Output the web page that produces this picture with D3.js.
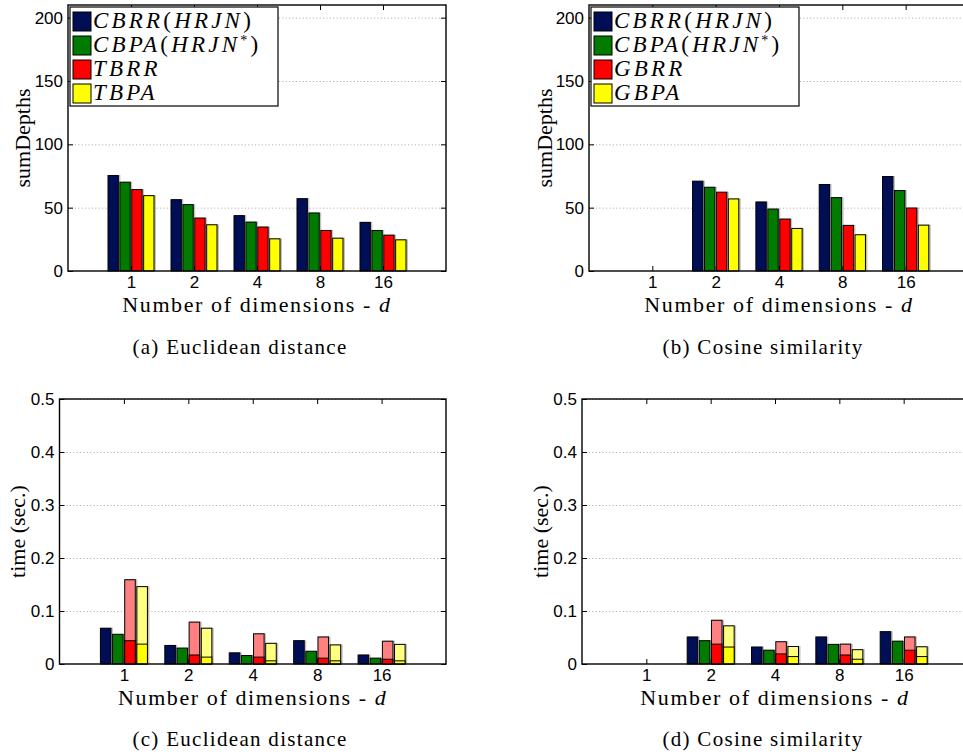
<!DOCTYPE html>
<html>
<head>
<meta charset="utf-8">
<script src="https://d3js.org/d3.v7.min.js"></script>
<style>
  body { margin: 0; background: #fff; }
  .tick text { font-family: "Liberation Sans", Arial, sans-serif; font-size: 17px; fill: #000; }
  .frame path.domain { stroke: none; }
  .grid line { stroke: #b4b4b4; stroke-dasharray: 1.2, 2.2; }
  .grid path { stroke: none; }
  .lbl { font-family: "Liberation Serif", "Times New Roman", serif; fill: #000; }
</style>
</head>
<body>
<script>
// categories
const dims = ["1", "2", "4", "8", "16"];
const seriesEuc = ["CBRR", "CBPA", "TBRR", "TBPA"];
const seriesCos = ["CBRR", "CBPA", "GBRR", "GBPA"];
const colors = ["#000f55", "#007b00", "#ff0000", "#ffff00"];
const lightColors = ["#000f55", "#007b00", "#ff8080", "#ffff80"];

// (a) sumDepths, Euclidean
const depthEucCBRR = [75.4, 56.3, 43.7, 57.1, 38.4];
const depthEucCBPA = [70.1, 52.4, 38.6, 45.8, 32.0];
const depthEucTBRR = [64.3, 41.8, 34.7, 32.0, 28.3];
const depthEucTBPA = [59.5, 36.5, 25.4, 25.9, 24.6];

// (b) sumDepths, cosine
const depthCosCBRR = [null, 70.9, 54.5, 68.3, 74.6];
const depthCosCBPA = [null, 66.1, 48.9, 57.9, 63.5];
const depthCosGBRR = [null, 62.2, 41.0, 36.0, 49.7];
const depthCosGBPA = [null, 56.9, 33.6, 28.6, 36.2];

// (c) time, Euclidean (total / lower part for the stacked ones)
const timeEucCBRR = [0.0675, 0.035, 0.021, 0.044, 0.017];
const timeEucCBPA = [0.056, 0.030, 0.016, 0.024, 0.011];
const timeEucTBRR = [0.159, 0.079, 0.057, 0.051, 0.043];
const timeEucTBRRpart = [0.044, 0.017, 0.013, 0.011, 0.009];
const timeEucTBPA = [0.146, 0.0675, 0.039, 0.036, 0.037];
const timeEucTBPApart = [0.0375, 0.013, 0.006, 0.006, 0.006];

// (d) time, cosine
const timeCosCBRR = [null, 0.051, 0.032, 0.051, 0.061];
const timeCosCBPA = [null, 0.044, 0.026, 0.037, 0.043];
const timeCosGBRR = [null, 0.0825, 0.042, 0.0375, 0.051];
const timeCosGBRRpart = [null, 0.0375, 0.019, 0.017, 0.026];
const timeCosGBPA = [null, 0.072, 0.033, 0.027, 0.0325];
const timeCosGBPApart = [null, 0.032, 0.014, 0.009, 0.014];

const depthTicks = [0, 50, 100, 150, 200];
const timeTicks = [0, 0.1, 0.2, 0.3, 0.4, 0.5];

const W = 963, H = 755;
const svg = d3.select("body").append("svg").attr("width", W).attr("height", H);

function panel(cfg) {
  const g = svg.append("g");
  const x = d3.scaleLinear().domain([0, dims.length + 1]).range([cfg.left, cfg.right]);
  const y = d3.scaleLinear().domain([0, cfg.ymax]).range([cfg.bottom, cfg.top]);
  const step = x(1) - x(0);
  const inner = d3.scaleBand().domain(d3.range(4)).range([-0.365 * step, 0.365 * step]).paddingInner(0.13);

  // dotted grid
  g.append("g").attr("class", "grid")
    .attr("transform", "translate(" + cfg.left + ",0)")
    .call(d3.axisLeft(y).tickValues(cfg.ticks.filter(t => t > 0)).tickSize(-(cfg.right - cfg.left)).tickFormat(""));

  // bars
  cfg.series.forEach((vals, s) => {
    vals.forEach((v, i) => {
      if (v == null) return;
      const bx = x(i + 1) + inner(s);
      const bw = inner.bandwidth();
      // soft gray shadow like matlab
      g.append("rect").attr("x", bx + 1).attr("y", y(v) - 0.5).attr("width", bw + 1).attr("height", y(0) - y(v) + 0.5)
        .attr("fill", "#999").attr("opacity", 0.6);
      g.append("rect").attr("x", bx).attr("y", y(v)).attr("width", bw).attr("height", y(0) - y(v))
        .attr("fill", cfg.parts && cfg.parts[s] ? lightColors[s] : colors[s])
        .attr("stroke", "#000").attr("stroke-width", 1);
      if (cfg.parts && cfg.parts[s]) {
        const p = cfg.parts[s][i];
        g.append("rect").attr("x", bx).attr("y", y(p)).attr("width", bw).attr("height", y(0) - y(p))
          .attr("fill", colors[s]).attr("stroke", "#000").attr("stroke-width", 1);
      }
    });
  });

  // box with inward ticks
  const xt = dims.map((d, i) => i + 1);
  g.append("g").attr("class", "frame").attr("transform", "translate(0," + cfg.bottom + ")")
    .call(d3.axisBottom(x).tickValues(xt).tickSize(-5).tickPadding(5).tickFormat((d, i) => dims[i]));
  g.append("g").attr("class", "frame").attr("transform", "translate(0," + cfg.top + ")")
    .call(d3.axisTop(x).tickValues(xt).tickSize(-5).tickFormat(""));
  g.append("g").attr("class", "frame").attr("transform", "translate(" + cfg.left + ",0)")
    .call(d3.axisLeft(y).tickValues(cfg.ticks).tickSize(-5).tickPadding(5).tickFormat(cfg.fmt));
  g.append("g").attr("class", "frame").attr("transform", "translate(" + cfg.right + ",0)")
    .call(d3.axisRight(y).tickValues(cfg.ticks).tickSize(-5).tickFormat(""));
  g.append("rect").attr("x", cfg.left).attr("y", cfg.top)
    .attr("width", cfg.right - cfg.left).attr("height", cfg.bottom - cfg.top)
    .attr("fill", "none").attr("stroke", "#000").attr("stroke-width", 1.4);
  g.selectAll(".frame .tick line").attr("stroke", "#000");

  // axis labels
  const xl = g.append("text").attr("class", "lbl").attr("x", (cfg.left + cfg.right) / 2).attr("y", cfg.bottom + 41)
    .attr("text-anchor", "middle").style("font-size", "22px").style("letter-spacing", "1.6px");
  xl.append("tspan").text("Number of dimensions - ");
  xl.append("tspan").style("font-style", "italic").text("d");
  g.append("text").attr("class", "lbl").attr("transform", "translate(" + cfg.ylabX + "," + ((cfg.top + cfg.bottom) / 2) + ") rotate(-90)")
    .attr("text-anchor", "middle").style("font-size", "22px").text(cfg.ylab);

  // caption
  g.append("text").attr("class", "lbl").attr("x", cfg.capX).attr("y", cfg.capY)
    .attr("text-anchor", "middle").style("font-size", "21px").style("letter-spacing", "1.3px").text(cfg.caption);

  if (cfg.legend) legend(g, cfg.left + 2, cfg.top + 2, cfg.legend);
}

function legend(g, lx, ly, names) {
  const box = g.append("g").attr("transform", "translate(" + lx + "," + ly + ")");
  box.append("rect").attr("width", 208).attr("height", 99).attr("fill", "#fff").attr("stroke", "#000").attr("stroke-width", 1.2);
  names.forEach((n, i) => {
    const ry = 5 + i * 24;
    box.append("rect").attr("x", 3).attr("y", ry).attr("width", 18).attr("height", 19)
      .attr("fill", colors[i]).attr("stroke", "#000").attr("stroke-width", 1);
    const t = box.append("text").attr("class", "lbl").attr("x", 23).attr("y", ry + 16)
      .style("font-size", "23px").style("letter-spacing", "3.2px");
    t.append("tspan").style("font-style", "italic").text(n);
    if (i < 2) {
      t.append("tspan").text("(");
      t.append("tspan").style("font-style", "italic").text("HRJN");
      if (i === 1) t.append("tspan").attr("dy", -7).style("font-size", "14px").text("*");
      t.append("tspan").attr("dy", i === 1 ? 7 : 0).text(")");
    }
  });
}

const fmtInt = d => d;
const fmtTime = d => d === 0 ? "0" : d.toFixed(1);

panel({ left: 68, right: 446, top: 5, bottom: 271, ymax: 210, ticks: depthTicks, fmt: fmtInt,
  series: [depthEucCBRR, depthEucCBPA, depthEucTBRR, depthEucTBPA],
  ylab: "sumDepths", ylabX: 30, caption: "(a)  Euclidean distance", capX: 240, capY: 354,
  legend: seriesEuc });
panel({ left: 589, right: 969, top: 5, bottom: 271, ymax: 210, ticks: depthTicks, fmt: fmtInt,
  series: [depthCosCBRR, depthCosCBPA, depthCosGBRR, depthCosGBPA],
  ylab: "sumDepths", ylabX: 552, caption: "(b)  Cosine similarity", capX: 763, capY: 354,
  legend: seriesCos });
panel({ left: 59.5, right: 446, top: 399, bottom: 664, ymax: 0.5, ticks: timeTicks, fmt: fmtTime,
  series: [timeEucCBRR, timeEucCBPA, timeEucTBRR, timeEucTBPA],
  parts: [null, null, timeEucTBRRpart, timeEucTBPApart],
  ylab: "time (sec.)", ylabX: 25, caption: "(c)  Euclidean distance", capX: 240, capY: 746 });
panel({ left: 582, right: 968, top: 399, bottom: 664, ymax: 0.5, ticks: timeTicks, fmt: fmtTime,
  series: [timeCosCBRR, timeCosCBPA, timeCosGBRR, timeCosGBPA],
  parts: [null, null, timeCosGBRRpart, timeCosGBPApart],
  ylab: "time (sec.)", ylabX: 548, caption: "(d)  Cosine similarity", capX: 763, capY: 746 });
</script>
</body>
</html>
